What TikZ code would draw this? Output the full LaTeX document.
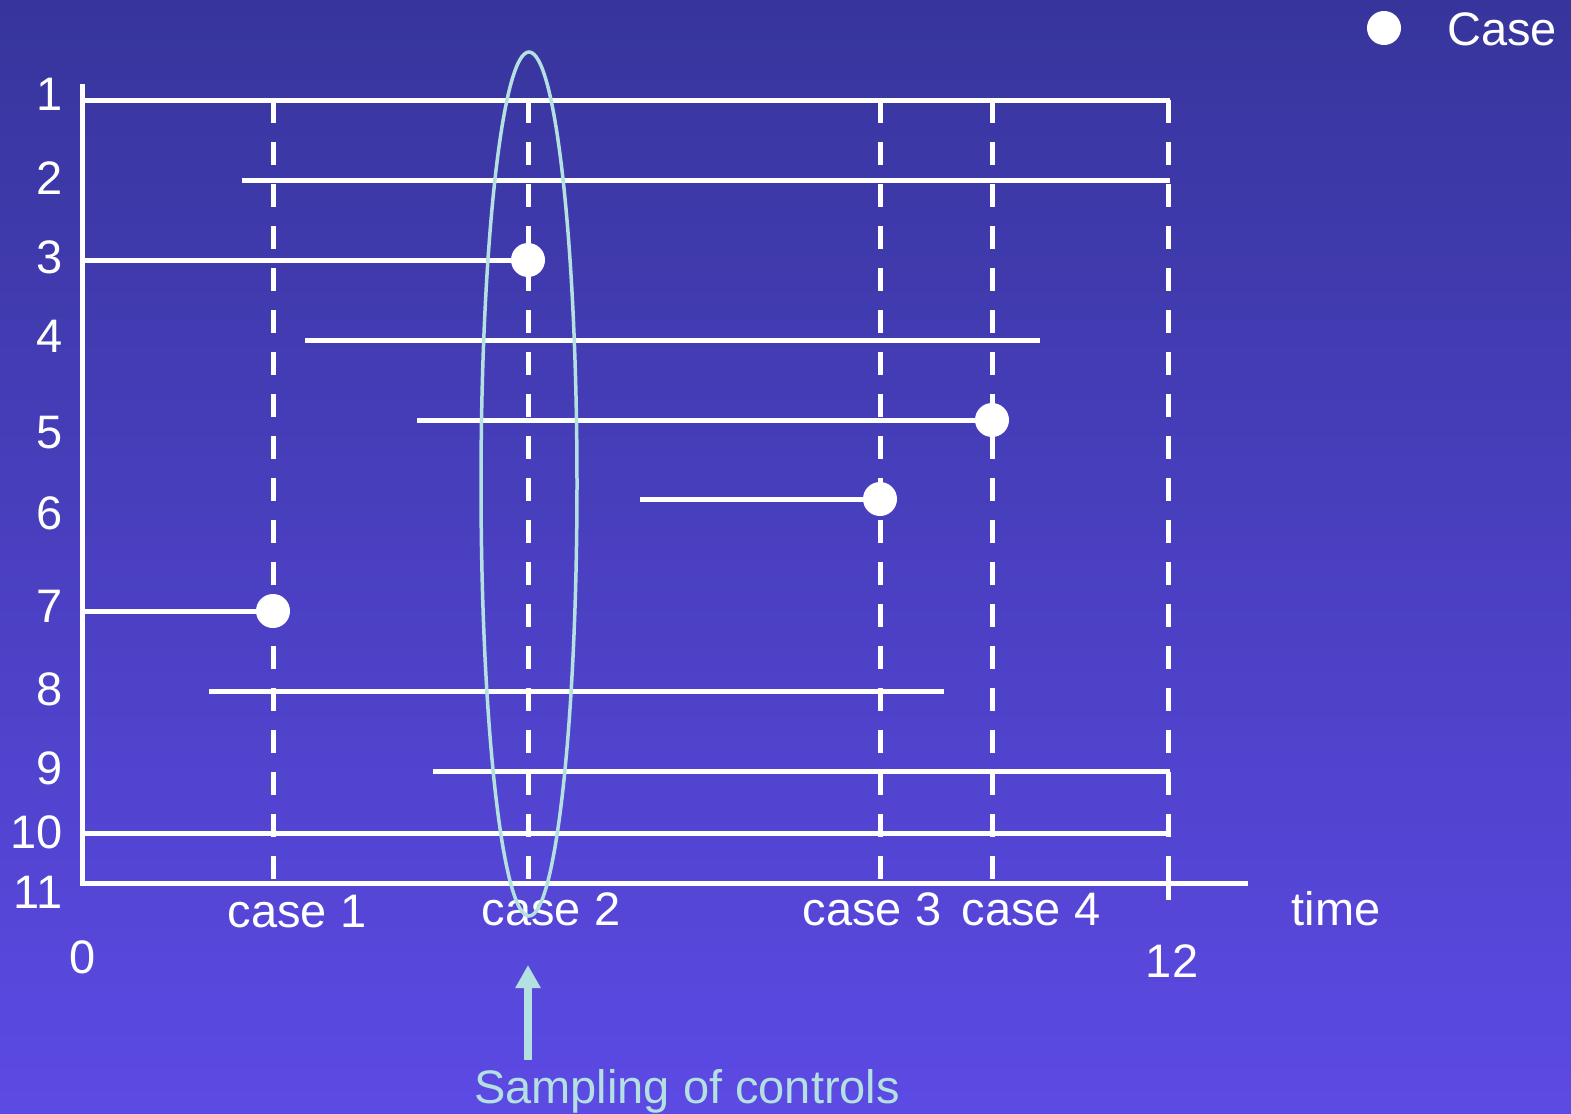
\documentclass[tikz,border=0pt]{standalone}
\usepackage{fontspec}
\setmainfont{Liberation Sans}
\usetikzlibrary{arrows.meta}
\definecolor{bgtop}{RGB}{55,53,156}
\definecolor{bgbot}{RGB}{92,74,228}
\definecolor{ctrl}{RGB}{180,224,226}
\begin{document}
\begin{tikzpicture}[x=0.5pt,y=-0.5pt,
  lbl/.style={text=white,font=\fontsize{23.5}{28}\selectfont,inner sep=0pt,anchor=base},
  rowlbl/.style={lbl,anchor=base east},
  life/.style={white,line width=2.5pt},
  casetime/.style={white,line width=2.5pt,dash pattern=on 11.5pt off 9.5pt},
  event/.style={circle,fill=white,minimum size=17pt,inner sep=0pt},
  ctrlline/.style={ctrl,line width=1.75pt},
]
% background
\shade[top color=bgtop,bottom color=bgbot] (0,0) rectangle (1571,1114);
\useasboundingbox (0,0) rectangle (1571,1114);

% axes
\coordinate (ytop) at (82,84);
\coordinate (origin) at (82,883);
\coordinate (xend) at (1248,883);
\draw[life] (ytop) -- (82,886);
\draw[life] (80,883) -- (xend);

% case times (dashed)
\foreach \cx/\nm in {273/c1,528/c2,880/c3,992/c4} {
  \coordinate (\nm top) at (\cx,100);
  \coordinate (\nm bot) at (\cx,883);
  \draw[casetime] (\nm top) -- (\nm bot);
}
\coordinate (endtop) at (1168,100);
\coordinate (endmid) at (1168,857);
\coordinate (endbot) at (1168,900);
\draw[casetime] (endtop) -- (endmid);
\draw[life] (endmid) -- (endbot);

% events
\node[event] (e3) at (528,260) {};
\node[event] (e5) at (992,420) {};
\node[event] (e6) at (880,499) {};
\node[event] (e7) at (273,611) {};

% follow-up of each subject
\draw[life] (83,100) -- (1170,100);
\draw[life] (242,180) -- (1170,180);
\draw[life] (83,260) -- (e3.center);
\draw[life] (305,340) -- (1040,340);
\draw[life] (417,420) -- (e5.center);
\draw[life] (640,499) -- (e6.center);
\draw[life] (83,611) -- (e7.center);
\draw[life] (209,691) -- (944,691);
\draw[life] (433,771) -- (1170,771);
\draw[life] (83,833) -- (1170,833);

% row labels
\foreach \r/\b in {1/110,2/194,3/273,4/352,5/448,6/529,7/622,8/705,9/784,10/848,11/908}
  \node[rowlbl] (r\r) at (63,\b) {\r};

% axis labels
\node[lbl] (t0) at (83,973) {0};
\node[lbl] (t12) at (1172,977) {12};
\node[lbl] (time) at (1336,925) {time};
\node[lbl] (k1) at (297,927) {case 1};
\node[lbl] (k2) at (551,925) {case 2};
\node[lbl] (k3) at (872,925) {case 3};
\node[lbl] (k4) at (1031,925) {case 4};

% legend
\node[event] (legdot) at (1384,28) {};
\node[lbl,anchor=base west] (legtxt) at (1447,45) {Case};

% risk set sampled at case 2
\draw[ctrlline] (529,484) ellipse [x radius=24pt, y radius=216pt];
\coordinate (arrowfoot) at (528,1060);
\coordinate (arrowtip) at (528,965);
\draw[ctrl,line width=4pt,-{Triangle[width=12pt,length=11.5pt]}] (arrowfoot) -- (arrowtip);
\node[lbl,text=ctrl] (samp) at (687,1103) {Sampling of controls};
\end{tikzpicture}
\end{document}
